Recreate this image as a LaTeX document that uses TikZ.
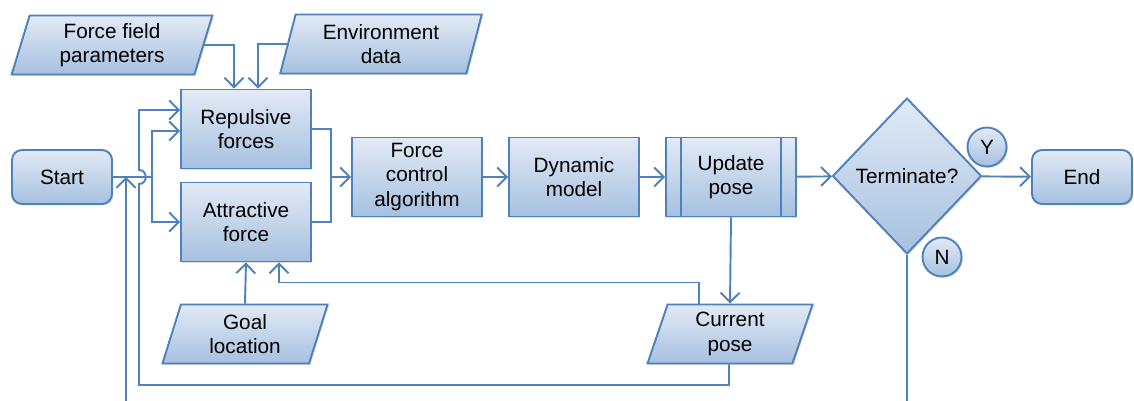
\documentclass[tikz,border=0pt]{standalone}
\usepackage{fontspec}
\setmainfont{Liberation Sans}
\usetikzlibrary{arrows.meta, positioning, calc, shapes.geometric, shadows}
\definecolor{edgeblue}{HTML}{4F81BD}
\definecolor{filltop}{HTML}{E2EAF5}
\definecolor{fillbot}{HTML}{A6C0E0}

\begin{document}
\begin{tikzpicture}[x=0.02cm, y=-0.02cm,
    >={Straight Barb[length=1.9mm,width=3.8mm]},
    base/.style={draw=edgeblue, line width=1.1pt, top color=filltop,
      bottom color=fillbot, align=center, inner sep=1pt,
      font=\fontsize{11.8}{14}\selectfont,
      drop shadow={opacity=0.25, shadow xshift=0.8pt, shadow yshift=-0.8pt}},
    blk/.style={base, rectangle, minimum width=2.6cm, minimum height=1.58cm},
    term/.style={base, rectangle, rounded corners=0.2cm, minimum width=2cm,
      minimum height=1.08cm},
    io/.style={base, trapezium, trapezium left angle=76,
      trapezium right angle=104, trapezium stretches=true,
      minimum height=1.18cm},
    dec/.style={base, diamond, minimum width=2.98cm, minimum height=3.12cm},
    tag/.style={base, circle, minimum size=0.78cm},
    ln/.style={draw=edgeblue, line width=1.1pt}]
  \useasboundingbox (0,0) rectangle (1134,401);
  \clip (0,0) rectangle (1134,401);
  % main chain
  \node[term] (start) at (62,177) {Start};
  \node[blk] (rep) at (246,129) {Repulsive\\forces};
  \node[blk] (att) at (246,222) {Attractive\\force};
  \node[blk] (fca) at (417,177) {Force\\control\\algorithm};
  \node[blk] (dyn) at (574,177) {Dynamic\\model};
  \node[blk] (upd) at (731,177) {Update\\pose};
  \draw[ln] ([xshift=0.32cm]upd.north west) -- ([xshift=0.32cm]upd.south west);
  \draw[ln] ([xshift=-0.32cm]upd.north east) -- ([xshift=-0.32cm]upd.south east);
  \node[dec] (term) at (907,176) {Terminate?};
  \node[term] (stop) at (1082,177) {End};
  \node[tag] (yes) at (987,147) {Y};
  \node[tag] (no) at (942,257) {N};
  % data
  \node[io, minimum width=4.02cm] (ffp) at (112,45) {Force field\\parameters};
  \node[io, minimum width=4.04cm] (env) at (381,44) {Environment\\data};
  \node[io, minimum width=3.32cm] (goal) at (245,334) {Goal\\location};
  \node[io, minimum width=3.32cm] (cur) at (730,334) {Current\\pose};
  % junctions
  \coordinate (split) at (152,177);
  \coordinate (merge) at (331,177);
  \coordinate (join) at (126,177);
  \coordinate (loopC) at (139,385);
  \coordinate (loopN) at (126,420);
  % inputs
  \draw[ln,->] (ffp.east) -| ([xshift=-0.24cm]rep.north);
  \draw[ln,->] (env.west) -| ([xshift=0.24cm]rep.north);
  \draw[ln] (start.east) -- (split);
  \draw[ln,->] (split) |- ([yshift=-0.04cm]rep.west);
  \draw[ln,->] (split) |- (att.west);
  \draw[ln] (rep.east) -| (merge);
  \draw[ln,->] (att.east) -| (merge) -- (fca.west);
  \foreach \a/\b in {fca/dyn,dyn/upd,upd/term,term/stop} \draw[ln,->] (\a)--(\b);
  % feedback
  \draw[ln,->] (upd.south) -- (cur.north);
  \draw[ln,->] ([xshift=-0.62cm]cur.north) -- ++(0,-21) -| ([xshift=0.66cm]att.south);
  \draw[ln,->] (goal.north) -- (att.south);
  \draw[ln,->] ([xshift=-0.02cm]cur.south) |- (loopC) -- (139,184)
    .. controls (148,184) and (148,170) .. (139,170)
    |- ([yshift=0.38cm]rep.west);
  \draw[ln,->] (term.south) |- (loopN) -- (join);
\end{tikzpicture}
\end{document}
